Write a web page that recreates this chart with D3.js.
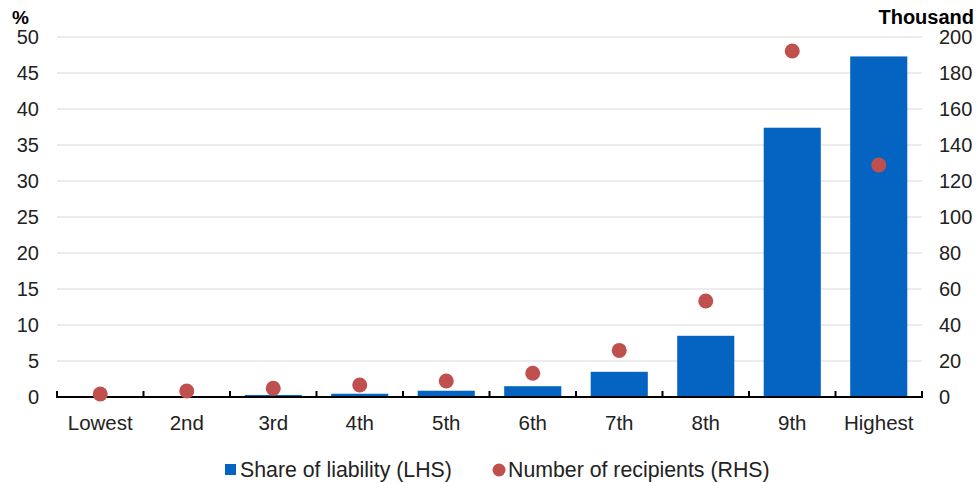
<!DOCTYPE html>
<html><head><meta charset="utf-8">
<script src="https://cdn.jsdelivr.net/npm/d3@7"></script>
<style>body{margin:0;background:#fff}svg{display:block}text{font-family:"Liberation Sans",Arial,sans-serif}</style>
</head><body><svg id="c" width="979" height="483"></svg>
<script>
const categories = ["Lowest","2nd","3rd","4th","5th","6th","7th","8th","9th","Highest"];
const shareLiability = [0.03,0.08,0.28,0.45,0.87,1.5,3.5,8.5,37.4,47.3];
const recipients = [1.7,3.3,4.8,6.7,8.9,13.2,25.9,53.3,192.2,128.9];
const leftTicks = [0,5,10,15,20,25,30,35,40,45,50];
const rightTicks = [0,20,40,60,80,100,120,140,160,180,200];

const svg = d3.select("#c");
const L = 57, R = 922, T = 37, B = 397;
const x = d3.scaleBand().domain(categories).range([L,R]).paddingInner(0.34).paddingOuter(0.17);
const yL = d3.scaleLinear().domain([0,50]).range([B,T]);
const yR = d3.scaleLinear().domain([0,200]).range([B,T]);

svg.append("g").selectAll("line").data(leftTicks.filter(d=>d>0)).join("line")
  .attr("x1",L).attr("x2",R).attr("y1",d=>yL(d)).attr("y2",d=>yL(d))
  .attr("stroke","#d9d9d9").attr("stroke-width",1.2);

svg.append("g").selectAll("rect").data(shareLiability).join("rect")
  .attr("x",(d,i)=>x(categories[i])).attr("width",x.bandwidth())
  .attr("y",d=>yL(d)).attr("height",d=>B-yL(d)).attr("fill","#0563C1");

// x axis
const xb = d3.scaleLinear().domain([0,categories.length]).range([L,R]);
svg.append("line").attr("x1",L).attr("x2",R).attr("y1",B).attr("y2",B).attr("stroke","#000").attr("stroke-width",2);
svg.append("g").selectAll("line").data(d3.range(categories.length+1)).join("line")
  .attr("x1",d=>xb(d)).attr("x2",d=>xb(d)).attr("y1",B-6).attr("y2",B+1).attr("stroke","#000").attr("stroke-width",2);

svg.append("g").selectAll("circle").data(recipients).join("circle")
  .attr("cx",(d,i)=>x(categories[i])+x.bandwidth()/2).attr("cy",d=>yR(d)).attr("r",7.5).attr("fill","#C0504D");

svg.append("g").selectAll("text").data(categories).join("text")
  .attr("x",d=>x(d)+x.bandwidth()/2).attr("y",430).attr("text-anchor","middle")
  .attr("font-size",20.5).attr("fill","#222").text(d=>d);

svg.append("g").selectAll("text").data(leftTicks).join("text")
  .attr("x",39).attr("y",d=>yL(d)+7).attr("text-anchor","end").attr("font-size",20).attr("fill","#222").text(d=>d);
svg.append("g").selectAll("text").data(rightTicks).join("text")
  .attr("x",939).attr("y",d=>yR(d)+7).attr("text-anchor","start").attr("font-size",20).attr("fill","#222").text(d=>d);

svg.append("text").attr("x",12).attr("y",24).attr("font-size",19).attr("font-weight","bold").text("%");
svg.append("text").attr("x",974).attr("y",24).attr("text-anchor","end").attr("font-size",20).attr("font-weight","bold").text("Thousand");

// legend
const lg = svg.append("g");
lg.append("rect").attr("x",225).attr("y",464).attr("width",11).attr("height",11).attr("fill","#0563C1");
lg.append("text").attr("x",240).attr("y",477).attr("font-size",21.3).attr("fill","#222").text("Share of liability (LHS)");
lg.append("circle").attr("cx",499).attr("cy",470).attr("r",6.5).attr("fill","#C0504D");
lg.append("text").attr("x",508).attr("y",477).attr("font-size",21.3).attr("fill","#222").text("Number of recipients (RHS)");
</script></body></html>
